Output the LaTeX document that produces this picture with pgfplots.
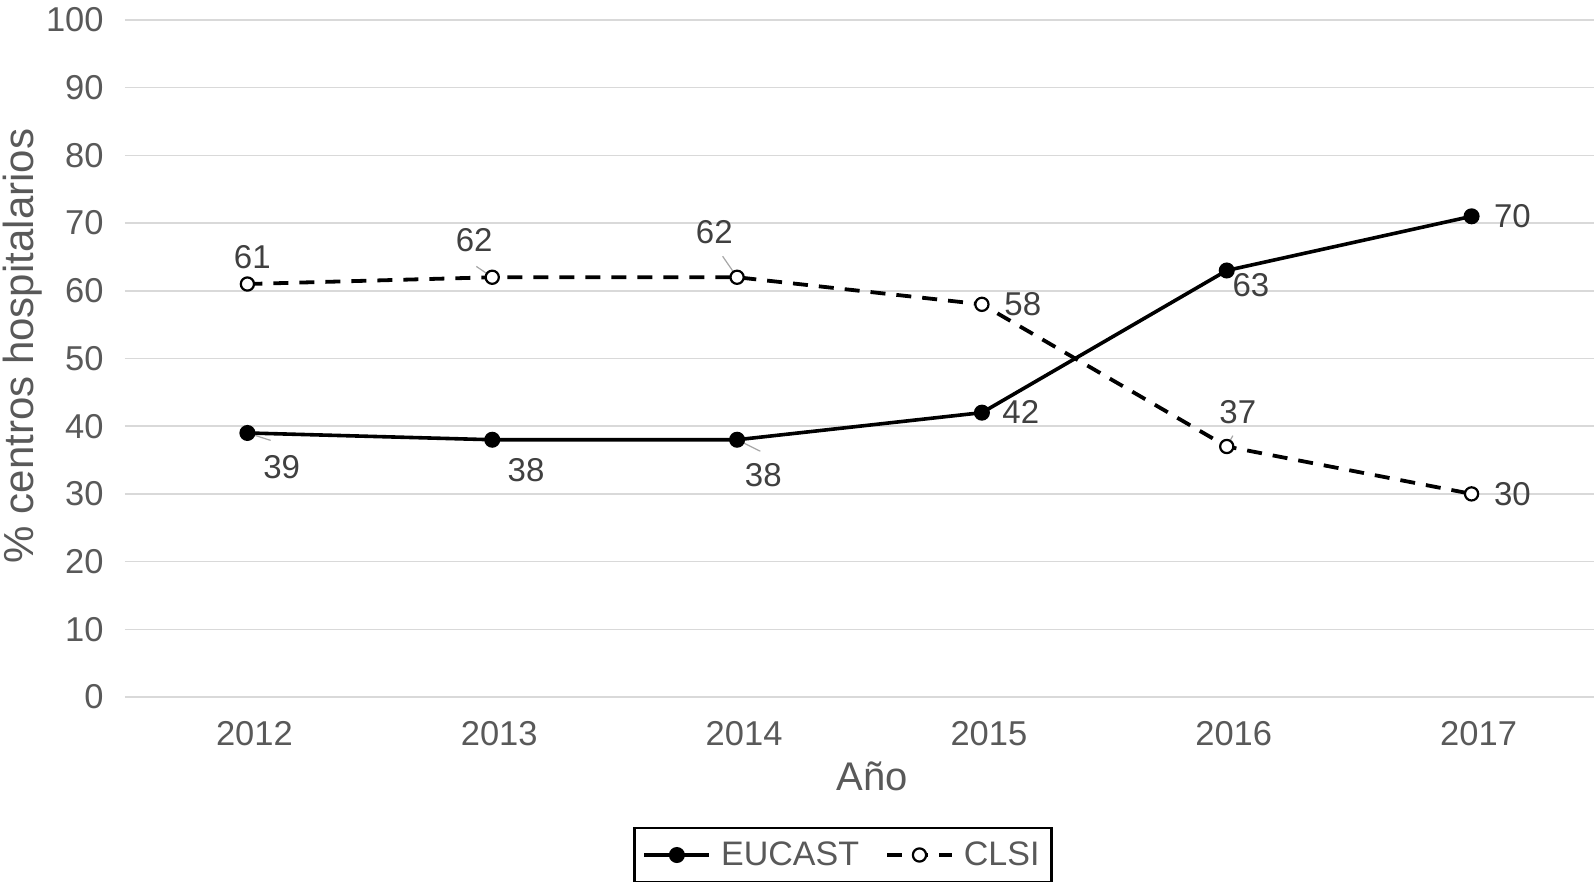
\documentclass[border=0pt]{standalone}
\usepackage{pgfplots}
\pgfplotsset{compat=1.18}
\usepackage{fontspec}
\setmainfont{Liberation Sans}
\definecolor{txt}{HTML}{595959}
\definecolor{lbl}{HTML}{404040}
\definecolor{gridc}{HTML}{D9D9D9}
\definecolor{lead}{HTML}{A6A6A6}

\begin{document}
\begin{tikzpicture}
\begin{axis}[
    name=ax,
    scale only axis,
    width=734.5pt, height=338.5pt,
    xmin=-0.5, xmax=5.5,
    ymin=0, ymax=100,
    axis line style={draw=none},
    xtick={0,1,2,3,4,5},
    xticklabels={2012,2013,2014,2015,2016,2017},
    ytick={0,10,...,100},
    major tick length=0pt,
    ymajorgrids,
    grid style={gridc, line width=0.8pt},
    tick label style={font=\fontsize{17.25}{19}\selectfont, text=txt},
    /pgf/number format/assume math mode=true,
    xticklabel style={anchor=base, inner sep=0pt, yshift=-24pt, xshift=3.5pt},
    yticklabel style={anchor=east, inner sep=0pt, xshift=-10.5pt},
    xlabel={Año},
    xlabel style={font=\fontsize{20}{22}\selectfont, text=txt, anchor=base, inner sep=0pt,
        at={(axis description cs:0.5085,0)}, yshift=-46.7pt},
    ylabel={\% centros hospitalarios},
    ylabel style={font=\fontsize{21}{23}\selectfont, text=txt, anchor=center, inner sep=0pt,
        at={(axis description cs:0,0.5185)}, yshift=51.3pt},
    legend columns=2,
    legend style={at={(axis description cs:0.4888,-0.2334)}, anchor=center,
        draw=black, line width=1.3pt, inner xsep=4pt, inner ysep=4.75pt,
        font=\fontsize{17}{19}\selectfont, text=txt,
        /tikz/every odd column/.append style={column sep=3pt},
        /tikz/every even column/.append style={column sep=11pt}},
    legend image code/.code={
        \draw[mark repeat=2, mark phase=2, #1] plot coordinates {(0pt,0pt) (16.25pt,0pt) (32.5pt,0pt)};
    },
    clip=false,
]
\addplot[black, line width=1.8pt, mark=*, mark size=3.1pt, mark options={solid, fill=black}]
    coordinates {(0,39) (1,38) (2,38) (3,42) (4,63) (5,71)};
\addlegendentry{EUCAST}
\addplot[black, line width=1.9pt, dash pattern=on 7.5pt off 5.5pt, mark=*, mark size=3.3pt,
    mark options={solid, fill=white, line width=1.1pt}]
    coordinates {(0,61) (1,62) (2,62) (3,58) (4,37) (5,30)};
\addlegendentry{CLSI}

% leader lines
\draw[lead, line width=0.6pt] (axis cs:0,39) -- (axis cs:0.095,37.9);
\draw[lead, line width=0.6pt] (axis cs:0.935,63.6) -- (axis cs:1,62);
\draw[lead, line width=0.6pt] (axis cs:1.941,65.1) -- (axis cs:2,62);
\draw[lead, line width=0.6pt] (axis cs:2,38) -- (axis cs:2.095,36.3);
\draw[lead, line width=0.6pt] (axis cs:4,37) -- (axis cs:4.025,38.6);

% data labels
\begin{scope}[every node/.style={font=\fontsize{16.5}{18}\selectfont, text=lbl, inner sep=0pt}]
\node at (axis cs:0.02,65.0) {61};
\node at (axis cs:0.926,67.5) {62};
\node at (axis cs:1.907,68.7) {62};
\node at (axis cs:3.167,58.0) {58};
\node at (axis cs:4.045,42.1) {37};
\node at (axis cs:5.167,29.9) {30};
\node at (axis cs:0.14,34.0) {39};
\node at (axis cs:1.138,33.5) {38};
\node at (axis cs:2.107,32.8) {38};
\node at (axis cs:3.159,42.1) {42};
\node at (axis cs:4.099,60.9) {63};
\node at (axis cs:5.167,71.1) {70};
\end{scope}
\end{axis}
\pgfresetboundingbox
\path ([shift={(-62.5pt,-92.5pt)}]ax.south west) rectangle ([shift={(734.5pt,348.5pt)}]ax.south west);
\end{tikzpicture}
\end{document}
